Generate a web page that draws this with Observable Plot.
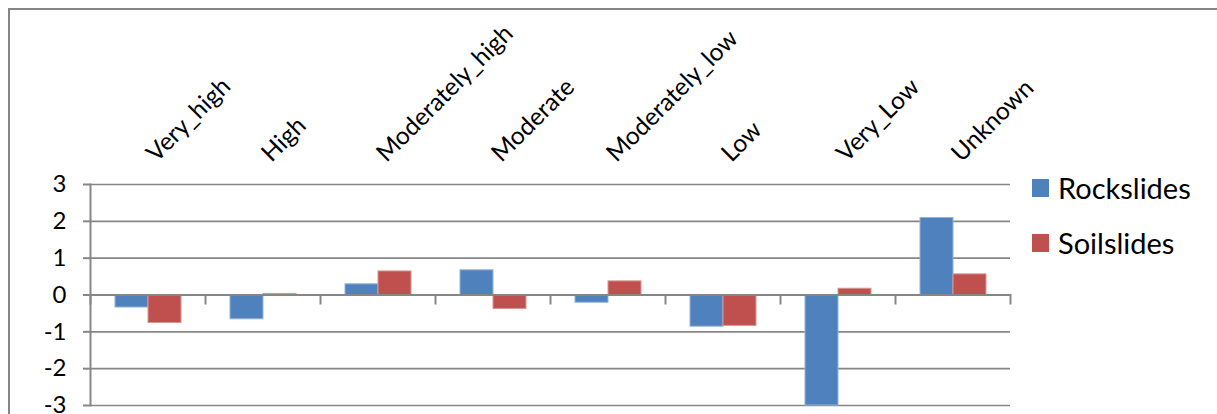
<!DOCTYPE html>
<html>
<head>
<meta charset="utf-8">
<script src="https://cdn.jsdelivr.net/npm/d3@7"></script>
<script src="https://cdn.jsdelivr.net/npm/@observablehq/plot@0.6"></script>
<style>
  body { margin: 0; background: #fff; }
  #wrap { position: relative; width: 1217px; height: 414px; overflow: hidden; font-family: Lato, sans-serif; background: #fff; }
  #border { position: absolute; left: 8px; top: 8px; width: 1400px; height: 700px; border: 2px solid #868686; box-sizing: border-box; }
  #chart { position: absolute; left: 0; top: 0; }
  .leg-row { position: absolute; left: 1032px; height: 18px; }
  .leg-sw { position: absolute; left: 0; top: 0; width: 17px; height: 18px; }
  .leg-tx { position: absolute; left: 26px; top: -8px; font-size: 29px; line-height: 34px; white-space: nowrap; color: #000; }
</style>
</head>
<body>
<div id="wrap">
  <div id="border"></div>
  <div id="chart"></div>
  <div id="legend"></div>
</div>
<script>
// ---- data ----
const categories = ["Very_high", "High", "Moderately_high", "Moderate", "Moderately_low", "Low", "Very_Low", "Unknown"];
const seriesNames = ["Rockslides", "Soilslides"];
const rockslides = [-0.34, -0.66, 0.29, 0.67, -0.21, -0.86, -3.0, 2.09];
const soilslides = [-0.76, 0.03, 0.64, -0.38, 0.37, -0.84, 0.17, 0.56];
const yTicks = [-3, -2, -1, 0, 1, 2, 3];
const seriesFill = ["#4F81BD", "#C0504D"];
const seriesStroke = ["#94B3DA", "#DA9593"];

const rows = categories.flatMap((c, i) => [
  {category: c, series: seriesNames[0], value: rockslides[i]},
  {category: c, series: seriesNames[1], value: soilslides[i]}
]);

const gray = "#868686";
const yTop = 184, yBottom = 405;

const plot = Plot.plot({
  width: 1217,
  height: 414,
  marginTop: yTop,
  marginLeft: 90,
  marginRight: 207,
  marginBottom: 414 - yBottom,
  style: {fontFamily: "Lato, sans-serif", background: "transparent", overflow: "visible", color: "#000"},
  fx: {domain: categories, padding: 0, axis: null, label: null},
  x: {domain: seriesNames, paddingInner: 0, paddingOuter: 0.742, axis: null, label: null},
  y: {domain: [-3, 3], axis: null, label: null},
  marks: [
    Plot.gridY(yTicks.filter(t => t !== 0), {stroke: gray, strokeOpacity: 1, strokeWidth: 1.6}),
    ...seriesNames.map((s, k) =>
      Plot.barY(rows.filter(d => d.series === s), {
        fx: "category", x: "series", y: "value",
        fill: seriesFill[k], stroke: seriesStroke[k], strokeWidth: 1
      })
    ),
    Plot.ruleY([0], {stroke: gray, strokeWidth: 2}),
    Plot.frame({anchor: "left", facetAnchor: "left", stroke: gray, strokeWidth: 2}),
    Plot.frame({anchor: "left", stroke: gray, strokeWidth: 2, insetTop: 110.5, insetBottom: 102}),
    Plot.frame({anchor: "right", facetAnchor: "right", stroke: gray, strokeWidth: 2, insetTop: 110.5, insetBottom: 102}),
    Plot.axisY({
      ticks: yTicks, tickFormat: d => String(d), tickSize: 7, tickPadding: 17, label: null,
      fontSize: 24, stroke: gray, strokeWidth: 2, fill: "#000"
    }),
    Plot.text(categories, {
      fx: d => d, text: d => d, frameAnchor: "top", dx: 3, dy: -27, rotate: -45,
      textAnchor: "start", lineAnchor: "middle", fontSize: 24.5, fill: "#000"
    })
  ]
});
document.getElementById("chart").appendChild(plot);

// legend
const legend = document.getElementById("legend");
const legendTops = [179, 234];
seriesNames.forEach((s, k) => {
  const row = document.createElement("div");
  row.className = "leg-row";
  row.style.top = legendTops[k] + "px";
  const sw = document.createElement("div");
  sw.className = "leg-sw";
  sw.style.background = seriesFill[k];
  const tx = document.createElement("div");
  tx.className = "leg-tx";
  tx.textContent = s;
  row.appendChild(sw);
  row.appendChild(tx);
  legend.appendChild(row);
});
</script>
</body>
</html>
